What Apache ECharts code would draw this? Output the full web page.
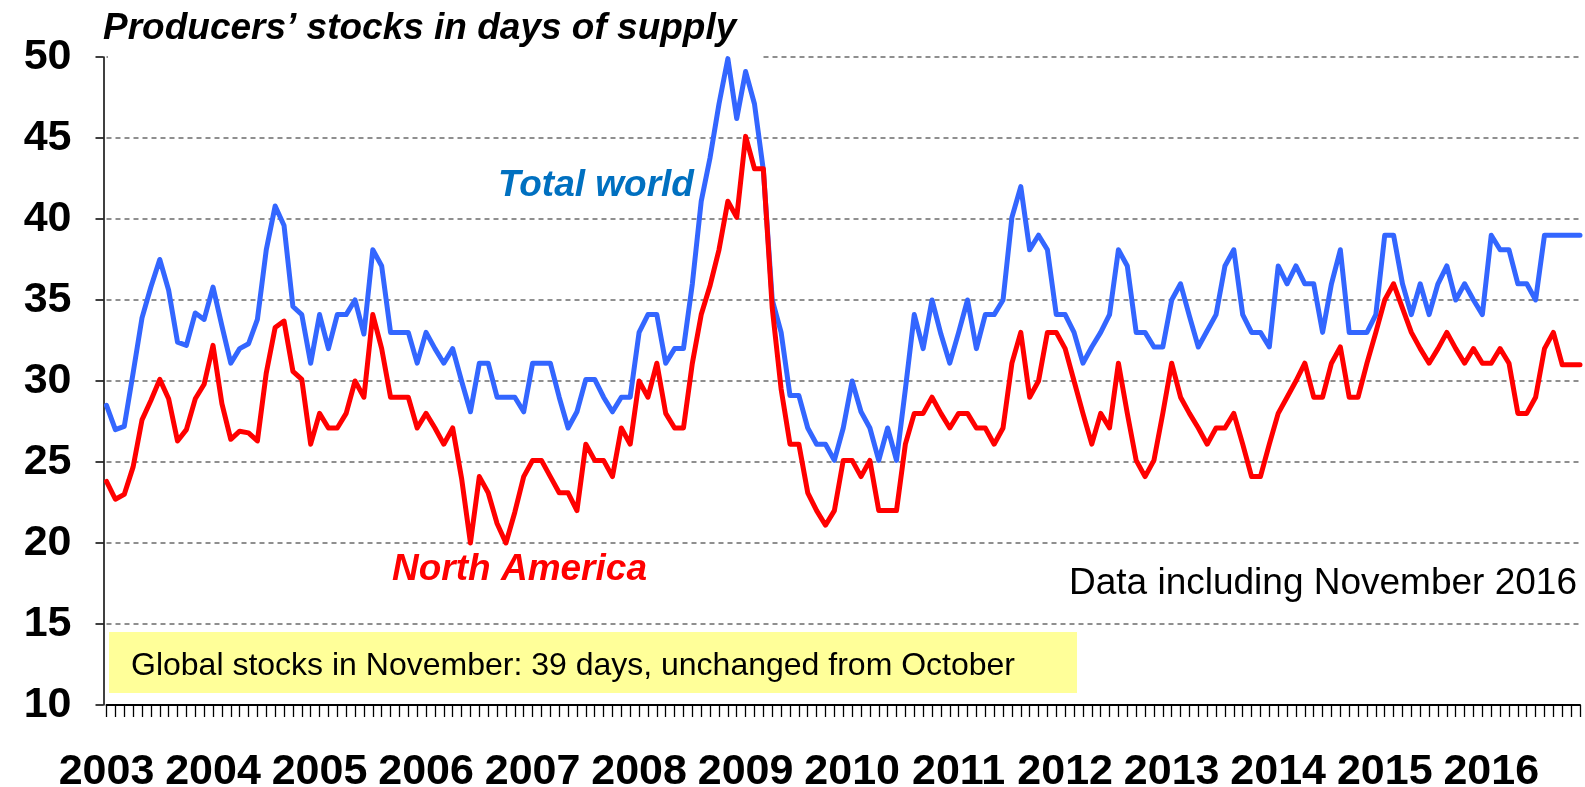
<!DOCTYPE html>
<html>
<head>
<meta charset="utf-8">
<script src="https://cdn.jsdelivr.net/npm/echarts@6/dist/echarts.min.js"></script>
<style>
html,body{margin:0;padding:0;background:#fff;}
#chart{width:1585px;height:787px;}
</style>
</head>
<body>
<div id="chart"></div>
<script>
// Tick labels (years) and monthly data Jan 2003 .. Nov 2016
const years = ['2003','2004','2005','2006','2007','2008','2009','2010','2011','2012','2013','2014','2015','2016'];

const totalWorld = [
  28.5, 27.0, 27.2, 30.5, 33.9, 35.8, 37.5, 35.6, 32.4, 32.2, 34.2, 33.8,
  35.8, 33.4, 31.1, 32.0, 32.3, 33.8, 38.1, 40.8, 39.6, 34.6, 34.1, 31.1,
  34.1, 32.0, 34.1, 34.1, 35.0, 32.9, 38.1, 37.1, 33.0, 33.0, 33.0, 31.1,
  33.0, 32.0, 31.1, 32.0, 30.0, 28.1, 31.1, 31.1, 29.0, 29.0, 29.0, 28.1,
  31.1, 31.1, 31.1, 29.0, 27.1, 28.1, 30.1, 30.1, 29.0, 28.1, 29.0, 29.0,
  33.0, 34.1, 34.1, 31.1, 32.0, 32.0, 36.0, 41.1, 43.8, 47.1, 49.9, 46.2,
  49.1, 47.1, 43.0, 35.0, 33.0, 29.1, 29.1, 27.1, 26.1, 26.1, 25.1, 27.1,
  30.0, 28.1, 27.1, 25.1, 27.1, 25.1, 29.5, 34.1, 32.0, 35.0, 32.9, 31.1,
  33.0, 35.0, 32.0, 34.1, 34.1, 35.0, 40.1, 42.0, 38.1, 39.0, 38.1, 34.1,
  34.1, 33.0, 31.1, 32.1, 33.0, 34.1, 38.1, 37.1, 33.0, 33.0, 32.1, 32.1,
  35.0, 36.0, 34.0, 32.1, 33.1, 34.1, 37.1, 38.1, 34.1, 33.0, 33.0, 32.1,
  37.1, 36.0, 37.1, 36.0, 36.0, 33.0, 36.0, 38.1, 33.0, 33.0, 33.0, 34.1,
  39.0, 39.0, 36.0, 34.1, 36.0, 34.1, 36.0, 37.1, 35.0, 36.0, 35.0, 34.1,
  39.0, 38.1, 38.1, 36.0, 36.0, 35.0, 39.0, 39.0, 39.0, 39.0, 39.0
];

const northAmerica = [
  23.8, 22.7, 23.0, 24.7, 27.6, 28.8, 30.1, 28.9, 26.3, 27.0, 28.9, 29.8,
  32.2, 28.6, 26.4, 26.9, 26.8, 26.3, 30.5, 33.3, 33.7, 30.6, 30.1, 26.1,
  28.0, 27.1, 27.1, 28.0, 30.0, 29.0, 34.1, 32.0, 29.0, 29.0, 29.0, 27.1,
  28.0, 27.1, 26.1, 27.1, 24.0, 20.0, 24.1, 23.1, 21.2, 20.0, 21.9, 24.1,
  25.1, 25.1, 24.1, 23.1, 23.1, 22.0, 26.1, 25.1, 25.1, 24.1, 27.1, 26.1,
  30.0, 29.0, 31.1, 28.0, 27.1, 27.1, 31.1, 34.1, 35.9, 38.1, 41.1, 40.1,
  45.1, 43.1, 43.1, 34.5, 29.5, 26.1, 26.1, 23.1, 22.0, 21.1, 22.0, 25.1,
  25.1, 24.1, 25.1, 22.0, 22.0, 22.0, 26.1, 28.0, 28.0, 29.0, 28.0, 27.1,
  28.0, 28.0, 27.1, 27.1, 26.1, 27.1, 31.1, 33.0, 29.0, 30.0, 33.0, 33.0,
  32.0, 30.0, 28.0, 26.1, 28.0, 27.1, 31.1, 28.0, 25.1, 24.1, 25.1, 28.0,
  31.1, 29.0, 28.0, 27.1, 26.1, 27.1, 27.1, 28.0, 26.1, 24.1, 24.1, 26.1,
  28.0, 29.0, 30.0, 31.1, 29.0, 29.0, 31.1, 32.1, 29.0, 29.0, 31.1, 33.0,
  35.0, 36.0, 34.5, 33.0, 32.0, 31.1, 32.0, 33.0, 32.0, 31.1, 32.0, 31.1,
  31.1, 32.0, 31.1, 28.0, 28.0, 29.0, 32.0, 33.0, 31.0, 31.0, 31.0
];

const yTicks = { min: 10, max: 50, step: 5 };

// month categories built from the year labels
const categories = [];
years.forEach(y => { for (let m = 1; m <= 12; m++) categories.push(y + '-' + m); });
categories.length = totalWorld.length;

const FONT = '"Liberation Sans", Arial, Helvetica, sans-serif';

const chart = echarts.init(document.getElementById('chart'), null, { renderer: 'canvas' });
chart.setOption({
  animation: false,
  backgroundColor: '#ffffff',
  grid: { left: 106.5, right: 5, top: 57, bottom: 82, containLabel: false, outerBoundsMode: 'none' },
  xAxis: {
    type: 'category',
    data: categories,
    boundaryGap: false,
    axisLine: { show: true, lineStyle: { color: '#000', width: 2 } },
    axisTick: { show: true, interval: 0, length: 12, lineStyle: { color: '#000', width: 1.3 } },
    axisLabel: {
      interval: (idx) => idx % 12 === 0,
      formatter: (v) => v.split('-')[0],
      fontFamily: FONT, fontSize: 43, fontWeight: 'bold', color: '#000', margin: 46
    },
    splitLine: { show: false }
  },
  yAxis: {
    type: 'value',
    min: yTicks.min, max: yTicks.max, interval: yTicks.step,
    offset: 3,
    axisLine: { show: true, lineStyle: { color: '#000', width: 1.5 } },
    axisTick: { show: true, length: 8, lineStyle: { color: '#000', width: 1.5 } },
    axisLabel: { fontFamily: FONT, fontSize: 43, fontWeight: 'bold', color: '#000', margin: 32 },
    splitLine: { show: true, lineStyle: { color: '#8f8f8f', width: 2, type: [5, 4] } }
  },
  series: [
    {
      name: 'Total world', type: 'line', data: totalWorld, symbol: 'none', z: 3,
      lineStyle: { color: '#3366FF', width: 5, join: 'round', cap: 'round' }
    },
    {
      name: 'North America', type: 'line', data: northAmerica, symbol: 'none', z: 4,
      lineStyle: { color: '#FF0000', width: 5, join: 'round', cap: 'round' }
    }
  ],
  graphic: [
    { type: 'rect', z: 1, shape: { x: 108, y: 47, width: 652, height: 20 }, style: { fill: '#ffffff' } },
    { type: 'text', z: 5, style: { x: 103, y: 29, text: 'Producers’ stocks in days of supply',
        font: 'italic bold 37px ' + FONT, fill: '#000', textAlign: 'left', textVerticalAlign: 'middle', align: 'left', verticalAlign: 'middle' } },
    { type: 'text', z: 5, style: { x: 498, y: 186, text: 'Total world',
        font: 'italic bold 37px ' + FONT, fill: '#0070C0', textAlign: 'left', textVerticalAlign: 'middle', align: 'left', verticalAlign: 'middle' } },
    { type: 'text', z: 5, style: { x: 392, y: 570, text: 'North America',
        font: 'italic bold 37px ' + FONT, fill: '#FF0000', textAlign: 'left', textVerticalAlign: 'middle', align: 'left', verticalAlign: 'middle' } },
    { type: 'text', z: 5, style: { x: 1577, y: 584, text: 'Data including November 2016',
        font: '37px ' + FONT, fill: '#000', textAlign: 'right', textVerticalAlign: 'middle', align: 'right', verticalAlign: 'middle' } },
    { type: 'rect', z: 4, shape: { x: 109, y: 632, width: 968, height: 61 }, style: { fill: '#FFFF99' } },
    { type: 'text', z: 5, style: { x: 131, y: 666, text: 'Global stocks in November: 39 days, unchanged from October',
        font: '32px ' + FONT, fill: '#000', textAlign: 'left', textVerticalAlign: 'middle', align: 'left', verticalAlign: 'middle' } }
  ]
});
</script>
</body>
</html>
